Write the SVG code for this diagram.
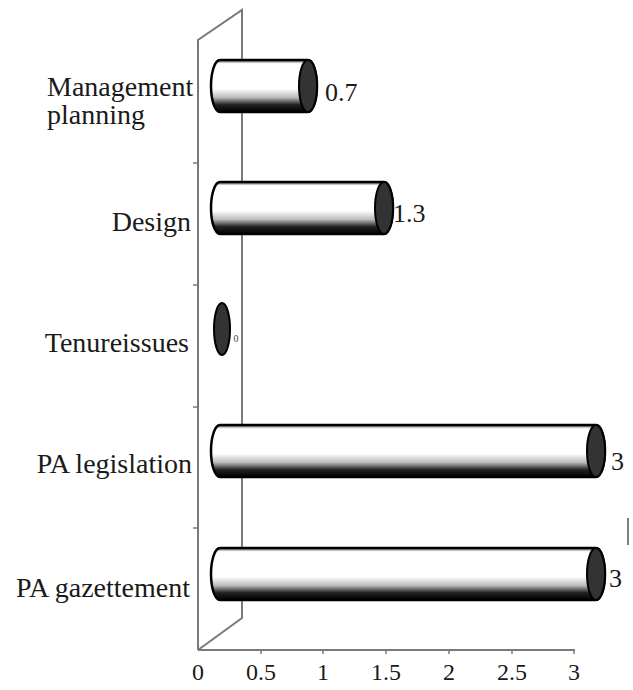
<svg xmlns="http://www.w3.org/2000/svg" width="633" height="690" viewBox="0 0 633 690">
<defs>
<linearGradient id="cyl" x1="0" y1="0" x2="0" y2="1">
<stop offset="0" stop-color="#444"/>
<stop offset="0.07" stop-color="#fff"/>
<stop offset="0.55" stop-color="#fff"/>
<stop offset="0.72" stop-color="#bbb"/>
<stop offset="0.86" stop-color="#222"/>
<stop offset="1" stop-color="#000"/>
</linearGradient>
</defs>
<style>
.wall{fill:none;stroke:#7a7a7a;stroke-width:2}
.tick{stroke:#7a7a7a;stroke-width:1.5}
.body{fill:url(#cyl);stroke:#000;stroke-width:2.5}
.cap{fill:#333;stroke:#000;stroke-width:2}
</style>
<rect width="633" height="690" fill="#fff"/>
<g font-family="Liberation Serif, Times New Roman, serif" fill="#1a1a1a">
<g id="axes">
<polyline class="wall" points="198,650 198,40 242,10 242,618 198,650"/>
<line class="wall" x1="198" y1="650" x2="575" y2="650"/>
<g class="tick">
<line x1="261" y1="650" x2="261" y2="654"/>
<line x1="323" y1="650" x2="323" y2="654"/>
<line x1="386" y1="650" x2="386" y2="654"/>
<line x1="449" y1="650" x2="449" y2="654"/>
<line x1="512" y1="650" x2="512" y2="654"/>
<line x1="574" y1="650" x2="574" y2="654"/>
<line x1="193" y1="163" x2="198" y2="163"/>
<line x1="193" y1="285" x2="198" y2="285"/>
<line x1="193" y1="407" x2="198" y2="407"/>
<line x1="193" y1="528" x2="198" y2="528"/>
</g>
<g font-size="24" text-anchor="middle">
<text x="198" y="680">0</text>
<text x="261" y="680">0.5</text>
<text x="323" y="680">1</text>
<text x="386" y="680">1.5</text>
<text x="449" y="680">2</text>
<text x="512" y="680">2.5</text>
<text x="574" y="680">3</text>
</g>
<line x1="628" y1="518" x2="628" y2="545" stroke="#555" stroke-width="1.5"/>
</g>
<g id="management-planning">
<text font-size="28" x="47" y="96">Management</text>
<text font-size="28" x="47" y="124">planning</text>
<path class="body" d="M220,60 H308 A9,26 0 0 1 308,112 H220 A9,26 0 0 1 220,60 Z"/>
<ellipse class="cap" cx="308" cy="86" rx="9" ry="26"/>
<text font-size="26" x="325" y="101">0.7</text>
</g>
<g id="design">
<text font-size="28" x="191" y="231" text-anchor="end">Design</text>
<path class="body" d="M220,182 H384 A9,26 0 0 1 384,234 H220 A9,26 0 0 1 220,182 Z"/>
<ellipse class="cap" cx="384" cy="208" rx="9" ry="26"/>
<text font-size="26" x="393" y="222">1.3</text>
</g>
<g id="tenure-issues">
<text font-size="28" x="189" y="352" text-anchor="end">Tenureissues</text>
<ellipse class="cap" cx="222" cy="329" rx="8" ry="26"/>
<text x="236" y="342" font-size="10" fill="#444" text-anchor="middle">0</text>
</g>
<g id="pa-legislation">
<text font-size="28" x="192" y="473" text-anchor="end">PA legislation</text>
<path class="body" d="M220,425 H596 A9,26 0 0 1 596,477 H220 A9,26 0 0 1 220,425 Z"/>
<ellipse class="cap" cx="596" cy="451" rx="9" ry="26"/>
<text font-size="26" x="611" y="470">3</text>
</g>
<g id="pa-gazettement">
<text font-size="28" x="190" y="597" text-anchor="end">PA gazettement</text>
<path class="body" d="M220,548 H596 A9,26 0 0 1 596,600 H220 A9,26 0 0 1 220,548 Z"/>
<ellipse class="cap" cx="596" cy="574" rx="9" ry="26"/>
<text font-size="26" x="609" y="587">3</text>
</g>
</g>
</svg>
